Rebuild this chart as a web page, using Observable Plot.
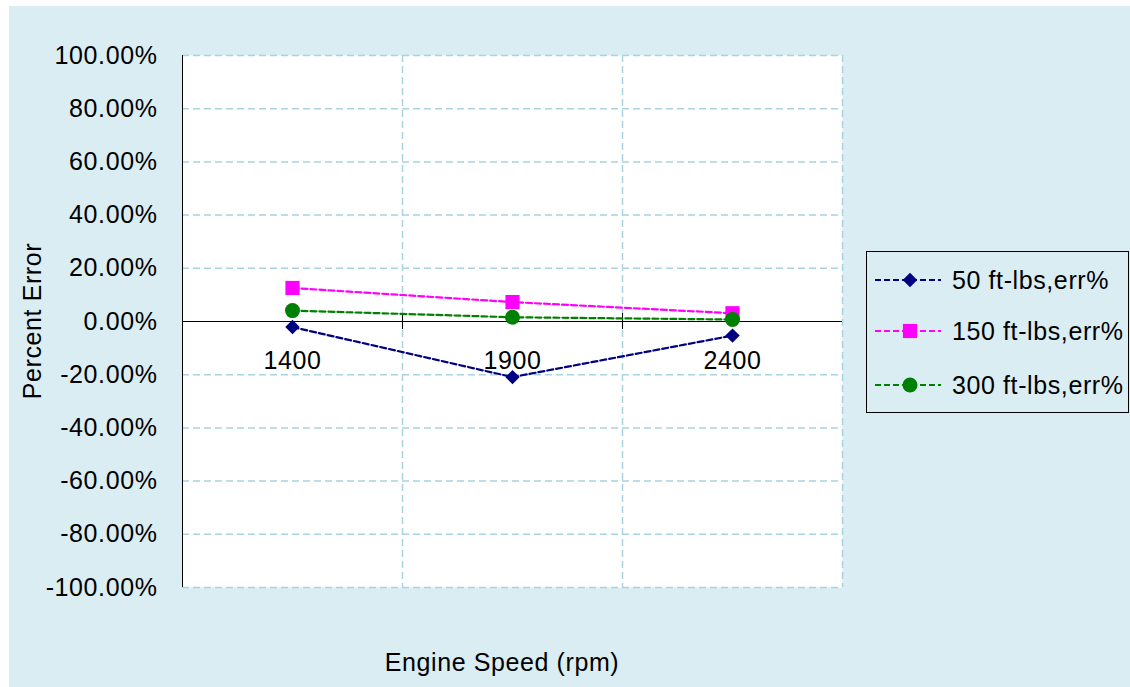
<!DOCTYPE html>
<html><head><meta charset="utf-8">
<script src="https://cdn.jsdelivr.net/npm/d3@7"></script>
<script src="https://cdn.jsdelivr.net/npm/@observablehq/plot@0.6"></script>
<style>
body{margin:0;background:#fff;font-family:"Liberation Sans",Arial,sans-serif;}
#wrap{position:relative;width:1130px;height:687px;overflow:hidden;}
#bg{position:absolute;left:9px;top:6px;width:1121px;height:681px;background:#DAEDF3;}
#chart{position:absolute;left:0;top:0;}
.lbl{position:absolute;font-size:25px;letter-spacing:0.6px;color:#000;white-space:nowrap;}
#ylab{left:32px;top:321px;transform:translate(-50%,-50%) rotate(-90deg);}
#xlab{left:502px;top:662px;transform:translate(-50%,-50%);}
#legend{position:absolute;left:866px;top:251px;width:261px;height:160px;border:1px solid #000;}
.row{position:absolute;left:0;height:30px;}
.row svg{position:absolute;left:8px;top:0;}
.row span{position:absolute;left:85px;top:50%;transform:translateY(-50%);font-size:25px;letter-spacing:0.6px;white-space:nowrap;}
</style>
</head><body>
<div id="wrap"><div id="bg"></div><div id="chart"></div>
<div class="lbl" id="ylab">Percent Error</div>
<div class="lbl" id="xlab">Engine Speed (rpm)</div>
<div id="legend"></div>
</div>
<script>
const speeds = [1400, 1900, 2400];
const seriesNames = ["50 ft-lbs,err%", "150 ft-lbs,err%", "300 ft-lbs,err%"];
const err50 = [-2.1, -20.9, -5.3];
const err150 = [12.6, 7.3, 3.1];
const err300 = [4.1, 1.6, 0.75];
const yTicks = [-100, -80, -60, -40, -20, 0, 20, 40, 60, 80, 100];
const colors = ["#000080", "#FF00FF", "#008000"];
const symbols = ["diamond2", "square", "circle"];
const radii = [6.5, 8, 7.5];

const seriesVals = [err50, err150, err300];
const data = seriesNames.map((name, i) => speeds.map((s, j) => ({series: name, speed: s, err: seriesVals[i][j]})));
const step = speeds[1] - speeds[0];
const xDomain = [speeds[0] - step / 2, speeds[speeds.length - 1] + step / 2];
const bounds = speeds.map(s => s + step / 2);
const fmt = d => d.toFixed(2) + "%";

const marks = [
  Plot.frame({fill: "white", stroke: "none"}),
  Plot.ruleY(yTicks.filter(d => d !== 0), {stroke: "#A9D3E0", strokeDasharray: "7,4", strokeWidth: 1.5}),
  Plot.ruleX(bounds, {stroke: "#A9D3E0", strokeDasharray: "7,4", strokeWidth: 1.5}),
  Plot.ruleY([0], {stroke: "#000", strokeWidth: 1}),
  Plot.ruleX([xDomain[0]], {stroke: "#000", strokeWidth: 1}),
  Plot.ruleX(bounds.slice(0, -1), {y1: -3, y2: 3, stroke: "#000", strokeWidth: 1}),
  Plot.axisY({ticks: yTicks, tickFormat: fmt, tickSize: 0, tickPadding: 25, label: null, fontSize: 25}),
  Plot.text(speeds, {x: d => d, y: 0, text: d => String(d), dy: 39, fontSize: 25, fill: "#000"})
];
data.forEach((rows, i) => {
  marks.push(Plot.line(rows, {x: "speed", y: "err", stroke: colors[i], strokeWidth: 2.2, strokeDasharray: "6,3"}));
});
data.forEach((rows, i) => {
  marks.push(Plot.dot(rows, {x: "speed", y: "err", symbol: symbols[i], r: radii[i], fill: colors[i], stroke: "none"}));
});

const chart = Plot.plot({
  width: 1130, height: 687,
  marginLeft: 182, marginRight: 288, marginTop: 55, marginBottom: 100,
  style: {background: "transparent", fontSize: "25px", letterSpacing: "0.6px", fontFamily: "'Liberation Sans', Arial, sans-serif", color: "#000"},
  x: {type: "linear", domain: xDomain, axis: null},
  y: {domain: [-100, 100], axis: null},
  marks
});
document.getElementById("chart").appendChild(chart);

// Legend
const legend = document.getElementById("legend");
const rowCenters = [28, 79, 133];
seriesNames.forEach((name, i) => {
  const row = document.createElement("div");
  row.className = "row";
  row.style.top = (rowCenters[i] - 15) + "px";
  row.style.width = "261px";
  const svg = d3.create("svg").attr("width", 70).attr("height", 30);
  svg.append("line").attr("x1", 0).attr("x2", 66).attr("y1", 15).attr("y2", 15)
    .attr("stroke", colors[i]).attr("stroke-width", 2.2).attr("stroke-dasharray", "6,3");
  const sym = {diamond2: d3.symbolDiamond2, square: d3.symbolSquare, circle: d3.symbolCircle}[symbols[i]];
  svg.append("path").attr("transform", "translate(35,15)")
    .attr("d", d3.symbol(sym, radii[i] * radii[i] * Math.PI)()).attr("fill", colors[i]);
  row.appendChild(svg.node());
  const span = document.createElement("span");
  span.textContent = name;
  row.appendChild(span);
  legend.appendChild(row);
});
</script>
</body></html>
